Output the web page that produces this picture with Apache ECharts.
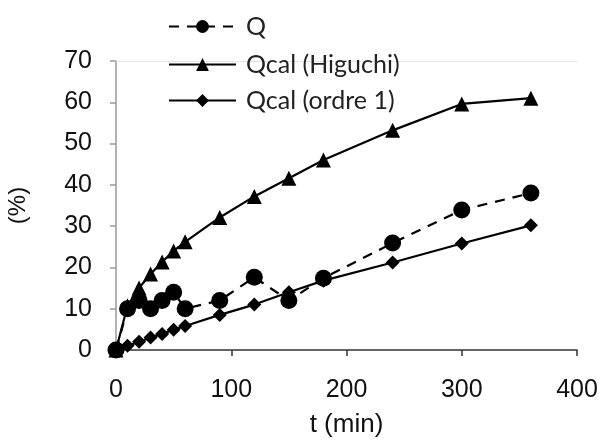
<!DOCTYPE html>
<html><head><meta charset="utf-8">
<script src="https://cdn.jsdelivr.net/npm/echarts@6/dist/echarts.min.js"></script>
<style>html,body{margin:0;padding:0;background:#fff}#c{width:602px;height:443px}</style>
</head><body><div id="c"></div>
<script>
const times = [0, 10, 20, 30, 40, 50, 60, 90, 120, 150, 180, 240, 300, 360];
const qExp = [0, 10, 12, 10, 12, 14, 10, 12, 17.6, 12, 17.4, 25.9, 33.9, 38];
const qHiguchi = [0, 10.7, 15, 18.4, 21.3, 24, 26.2, 32.1, 37.2, 41.6, 46, 53.2, 59.6, 61];
const qOrdre1 = [0, 1, 2, 3, 3.9, 4.9, 5.8, 8.5, 11, 14, 16.8, 21.2, 25.8, 30.2];
const xTicks = [0, 100, 200, 300, 400];
const yTicks = [0, 10, 20, 30, 40, 50, 60, 70];
const names = ['Q', 'Qcal (Higuchi)', 'Qcal (ordre 1)'];

const pair = arr => times.map((t, i) => [t, arr[i]]);
const font = '"Liberation Sans", Arial, sans-serif';
const legFont = 'Lato, "Liberation Sans", sans-serif';
const chart = echarts.init(document.getElementById('c'), null, {renderer: 'canvas'});
const mkLegend = (name, top) => ({
  data: [name], left: 163, top: top, itemWidth: 67, itemHeight: 16, itemGap: 0,
  textStyle: {fontFamily: legFont, fontSize: 25, color: '#222', padding: [0, 0, 0, 5]},
  selectedMode: false
});
chart.setOption({
  animation: false,
  backgroundColor: '#fff',
  grid: {left: 116, right: 25, top: 61, bottom: 93, containLabel: false, outerBoundsMode: 'none'},
  legend: [mkLegend(names[0], 9), mkLegend(names[1], 47), mkLegend(names[2], 83)],
  xAxis: [{
    type: 'value', min: xTicks[0], max: xTicks[xTicks.length - 1], interval: 100,
    name: 't (min)', nameLocation: 'middle', nameGap: 62,
    nameTextStyle: {fontFamily: font, fontSize: 26, color: '#111'},
    axisLine: {lineStyle: {color: '#333', width: 1.5}},
    axisTick: {inside: false, length: 6, lineStyle: {color: '#333', width: 1.5}},
    axisLabel: {fontFamily: font, fontSize: 25, color: '#111', margin: 28},
    splitLine: {show: false}
  }, {
    type: 'value', position: 'top', min: 0, max: 400,
    axisLine: {show: true, lineStyle: {color: '#e4e4e4', width: 1}},
    axisTick: {show: false}, axisLabel: {show: false}, splitLine: {show: false}
  }],
  yAxis: {
    type: 'value', min: yTicks[0], max: yTicks[yTicks.length - 1], interval: 10,
    name: '(%)', nameLocation: 'middle', nameGap: 86, nameRotate: 90,
    nameTextStyle: {fontFamily: font, fontSize: 24, color: '#111'},
    axisLine: {show: true, lineStyle: {color: '#999', width: 1.5}},
    axisTick: {show: true, inside: false, length: 6, lineStyle: {color: '#999', width: 1.5}},
    axisLabel: {fontFamily: font, fontSize: 25, color: '#111', margin: 24},
    splitLine: {show: false}
  },
  series: [
    {
      name: names[0], type: 'line', data: pair(qExp),
      symbol: 'circle', symbolSize: 17, z: 3,
      itemStyle: {color: '#000'},
      lineStyle: {color: '#000', width: 2.2, type: [10, 8]}
    },
    {
      name: names[1], type: 'line', data: pair(qHiguchi),
      symbol: 'triangle', symbolSize: 15, z: 2,
      itemStyle: {color: '#000'},
      lineStyle: {color: '#000', width: 2.2}
    },
    {
      name: names[2], type: 'line', data: pair(qOrdre1),
      symbol: 'diamond', symbolSize: 14, z: 2,
      itemStyle: {color: '#000'},
      lineStyle: {color: '#000', width: 2.2}
    }
  ]
});
</script></body></html>
